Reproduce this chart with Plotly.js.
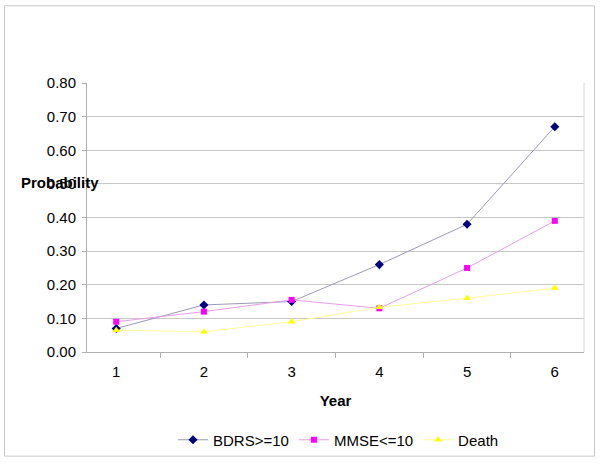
<!DOCTYPE html>
<html>
<head>
<meta charset="utf-8">
<script src="https://cdn.plot.ly/plotly-3.0.1.min.js"></script>
<style>html,body{margin:0;padding:0;background:#fff;}#chart{width:600px;height:467px;}</style>
</head>
<body>
<div id="chart"></div>
<script>
const years = ['1', '2', '3', '4', '5', '6'];
const bdrs = [0.07, 0.14, 0.15, 0.26, 0.38, 0.67];
const mmse = [0.09, 0.12, 0.155, 0.13, 0.25, 0.39];
const death = [0.065, 0.06, 0.09, 0.133, 0.16, 0.19];
const seriesNames = ['BDRS>=10', 'MMSE<=10', 'Death'];
const yTicks = [0, 0.1, 0.2, 0.3, 0.4, 0.5, 0.6, 0.7, 0.8];

const FONT = 'Liberation Sans, Arial, sans-serif';
const FS = 15;
const L = 87, R = 584, T = 83, B = 353;
const pw = R - L, ph = B - T;
const px = v => (v - L) / pw;
const py = v => (B - v) / ph;

const traces = [
  {x: years, y: bdrs, name: seriesNames[0], type: 'scatter', mode: 'lines+markers',
   line: {color: '#9a9ab8', width: 1}, marker: {symbol: 'diamond', size: 7, color: '#000080'}},
  {x: years, y: mmse, name: seriesNames[1], type: 'scatter', mode: 'lines+markers',
   line: {color: '#e8a0e8', width: 1}, marker: {symbol: 'square', size: 6, color: '#ff00ff'}},
  {x: years, y: death, name: seriesNames[2], type: 'scatter', mode: 'lines+markers',
   line: {color: '#ffff99', width: 1}, marker: {symbol: 'triangle-up', size: 7, color: '#ffff00'}}
];

const layout = {
  width: 600, height: 467,
  margin: {l: L, r: 600 - R, t: T, b: 467 - B, pad: 0},
  paper_bgcolor: '#ffffff', plot_bgcolor: '#ffffff',
  font: {family: FONT, size: FS, color: '#000'},
  showlegend: true,
  legend: {orientation: 'h', x: px(173), xanchor: 'left', y: py(440), yanchor: 'middle',
           font: {family: FONT, size: FS, color: '#000'}, bgcolor: 'rgba(0,0,0,0)', itemwidth: 30},
  xaxis: {type: 'category', tickson: 'boundaries', ticks: 'outside', ticklen: 5, tickcolor: '#b0b0b0',
          showgrid: false, showline: true, linecolor: '#b0b0b0', linewidth: 1, mirror: false,
          zeroline: false, tickfont: {family: FONT, size: FS}, ticklabelstandoff: 6,
          title: {text: '<b>Year</b>', font: {family: FONT, size: FS}, standoff: 16}},
  yaxis: {range: [0, 0.8], tickvals: yTicks, ticktext: yTicks.map(v => v.toFixed(2)),
          ticks: 'outside', ticklen: 4, tickcolor: '#b0b0b0', ticklabelstandoff: 3,
          showgrid: true, gridcolor: '#c8c8c8', gridwidth: 1, showline: true, linecolor: '#b0b0b0',
          zeroline: false, tickfont: {family: FONT, size: FS}},
  annotations: [{text: '<b>Probability</b>', xref: 'paper', yref: 'paper', x: px(60), y: py(183),
                 xanchor: 'center', yanchor: 'middle', showarrow: false, font: {family: FONT, size: FS, color: '#000'}}],
  shapes: [
    {type: 'rect', xref: 'paper', yref: 'paper', x0: px(4.5), x1: px(594.5), y0: py(457.5), y1: py(5.5),
     line: {color: '#c8c8c8', width: 1}, fillcolor: 'rgba(0,0,0,0)', layer: 'below'},
    {type: 'line', xref: 'paper', yref: 'paper', x0: 1, x1: 1, y0: 0, y1: 1,
     line: {color: '#d8d8d8', width: 1}}
  ]
};

Plotly.newPlot('chart', traces, layout, {displayModeBar: false, staticPlot: true});
</script>
</body>
</html>
